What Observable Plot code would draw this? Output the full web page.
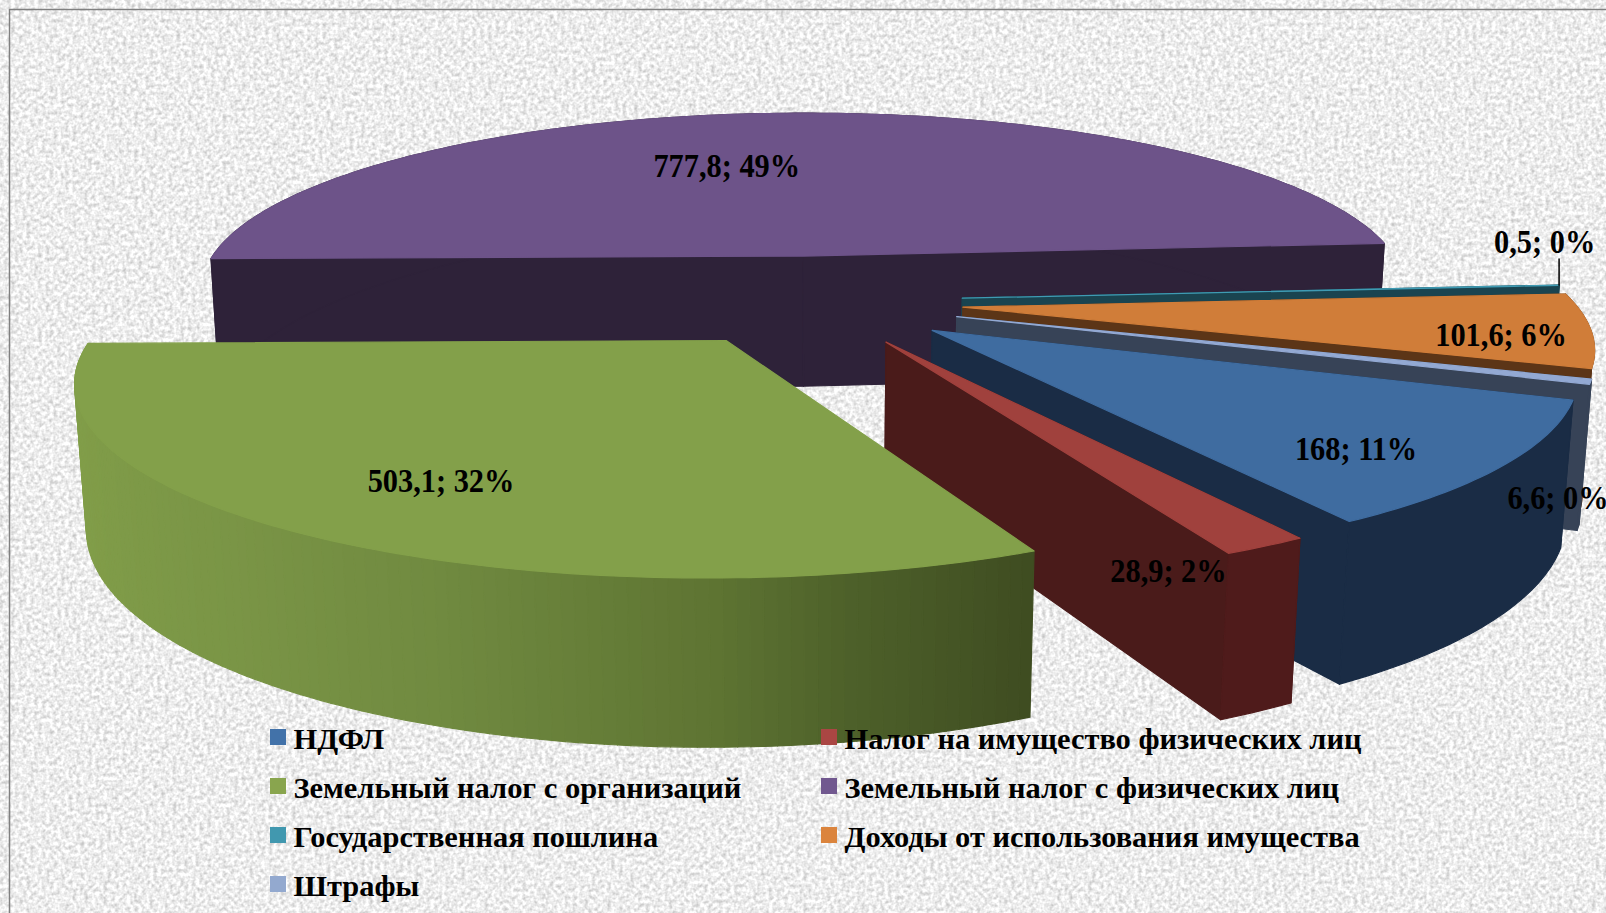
<!DOCTYPE html>
<html lang="ru"><head><meta charset="utf-8">
<script src="https://cdn.jsdelivr.net/npm/d3@7"></script>
<script src="https://cdn.jsdelivr.net/npm/@observablehq/plot@0.6"></script>
<style>
html,body{margin:0;padding:0;width:1606px;height:913px;overflow:hidden}
body{background-color:#ececec;background-image:url("data:image/svg+xml;utf8,<svg xmlns='http://www.w3.org/2000/svg' width='1606' height='913'><filter id='n' x='0' y='0' width='100%' height='100%' color-interpolation-filters='sRGB'><feTurbulence type='fractalNoise' baseFrequency='.26' numOctaves='2' seed='4'/><feColorMatrix values='.42 0 0 0 .72 .42 0 0 0 .72 .42 0 0 0 .72 0 0 0 0 1'/></filter><rect width='1606' height='913' filter='url(%23n)'/></svg>")}
svg{display:block;background:transparent!important}
</style></head><body><div id="chart"></div>
<script>
// data, in the chart's order (clockwise)
const categories=["НДФЛ","Налог на имущество физических лиц","Земельный налог с организаций","Земельный налог с физических лиц","Государственная пошлина","Доходы от использования имущества","Штрафы"];
const values=[168,28.9,503.1,777.8,0.5,101.6,6.6];
const topColors=["#3f6ca0","#a0413d","#83a04a","#6d5389","#3f9bb3","#d07d39","#93a9d3"];
const wallColors=["#1a2c45","#4a1b1a","#6a8239","#2e2239","#1a4450","#5c3517","#374357"];
const swatchColors=["#4272a9","#aa4643","#89a54e","#71588f","#4198af","#db843d","#93a9cf"];
// 3D view
const view={x0:810,y0:301,rx:611,ry:177,depth:138,persp:.185,drop:.015,start:20.3};
const explode=[.25,.25,.25,.27,.25,.25,.25];
const radiusU=[1,1,1,1.015,1,1,1],radiusV=[1,1,1,1.055,1,1,1];
const drawOrder=[3,4,5,6,0,1,2];
const labelOffset=[5.9,9.4,-2.55,-11.4,-12.4,4.5,28.3]; // degrees from slice middle
const labelRadius=[.82,1.04,.76,.605,1.07,.857,1.155];
const total=d3.sum(values);
const rad=a=>a*Math.PI/180;
function project(u,v,h){const w=1-view.persp*v+view.drop*h;return [view.x0+view.rx*u/w,view.y0+(view.ry*v+view.depth*h)/w];}
let cum=view.start;
const slices=values.map((val,i)=>{const t0=cum,t1=cum+val/total*360;cum=t1;const m=(t0+t1)/2;
 return {i,t0,t1,m,ax:explode[i]*Math.cos(rad(m)),ay:explode[i]*Math.sin(rad(m))};});
const rim=(s,t,h,ru=radiusU[s.i],rv=radiusV[s.i])=>project(s.ax+ru*Math.cos(rad(t)),s.ay+rv*Math.sin(rad(t)),h);
const polys=[];let pid=0;
function poly(pts,color){const id=pid++;pts.forEach(p=>polys.push({id,x:p[0],y:p[1],color}));}
// green wall shades from dark at the right to light at the left
const greenShade=d3.scaleLinear().domain([65,80,90,110,130,150,175]).range(["#3f4c21","#4e612a","#5f7533","#708a40","#7a9546","#7f9b48","#83a04a"]).clamp(true);
drawOrder.forEach(k=>{const s=slices[k],wall=wallColors[k];
 const apexT=project(s.ax,s.ay,0),apexB=project(s.ax,s.ay,1);
 if(k!==2){ // green's cut faces are turned away from the viewer
  poly([apexT,rim(s,s.t0,0),rim(s,s.t0,1),apexB],wall);
  poly([apexT,rim(s,s.t1,0),rim(s,s.t1,1),apexB],wall);
 }
 const n=Math.max(2,Math.ceil(s.t1-s.t0));
 const steps=d3.range(n).map(j=>[s.t0+(s.t1-s.t0)*j/n,s.t0+(s.t1-s.t0)*(j+1)/n]);
 if(k===2){
  steps.sort((p,q)=>Math.sin(rad(p[0]+.5))-Math.sin(rad(q[0]+.5)));
  steps.forEach(([a,b])=>poly([rim(s,a,0),rim(s,b,0),rim(s,b,1),rim(s,a,1)],greenShade((a+b)/2)));
 }else{
  const ts=d3.range(n+1).map(j=>s.t0+(s.t1-s.t0)*j/n);
  poly([...ts.map(t=>rim(s,t,0)),...ts.slice().reverse().map(t=>rim(s,t,1))],k===1?"#4f1b1b":wall);
 }
 const top=[apexT];for(let j=0;j<=n;j++)top.push(rim(s,s.t0+(s.t1-s.t0)*j/n,0));
 poly(top,topColors[k]);
});
const labels=slices.map(s=>{const a=s.m+labelOffset[s.i],r=labelRadius[s.i],[x,y]=rim(s,a,0,r,r);
 return {x,y,text:`${String(values[s.i]).replace(".",",")}; ${Math.round(values[s.i]/total*100)}%`};});
// leader of the smallest slice
const teal=slices[4];const lp=rim(teal,teal.m,0);
const leader=[{x:lp[0],y:lp[1]},{x:lp[0],y:lp[1]-view.depth*.19}];
// legend
const legendCols=[270,821],legendRows=[729,778,827,876],swatch=16;
const legend=categories.map((name,i)=>({name,color:swatchColors[i],x:legendCols[i%2],y:legendRows[Math.floor(i/2)]}));
const font="Liberation Serif";
const chart=Plot.plot({width:1606,height:913,margin:0,
 x:{domain:[0,1606],range:[0,1606],axis:null},y:{domain:[0,913],range:[0,913],axis:null},
 color:{type:"identity"},
 marks:[
  Plot.ruleX([9],{y1:9,y2:913,stroke:"#808080",strokeWidth:1.5}),
  Plot.ruleY([9],{x1:9,x2:1606,stroke:"#808080",strokeWidth:1.5}),
  Plot.line(polys,{x:"x",y:"y",z:"id",fill:"color",stroke:"color",strokeWidth:1.2,curve:"linear-closed"}),
  Plot.line(leader,{x:"x",y:"y",stroke:"#000",strokeWidth:1.5}),
  Plot.text(labels,{x:"x",y:"y",dy:-4.5,text:"text",fontFamily:font,fontWeight:"bold",fontSize:33,fill:"#000",textAnchor:"middle",className:"slice-label"}),
  Plot.rect(legend,{x1:"x",x2:d=>d.x+swatch,y1:"y",y2:d=>d.y+swatch,fill:"color"}),
  Plot.text(legend,{x:d=>d.x+23,y:d=>d.y+10,text:"name",fontFamily:font,fontWeight:"bold",fontSize:30,fill:"#000",textAnchor:"start",className:"legend-label"})
 ]});
document.getElementById("chart").append(chart);
// the reference's labels are narrow and tall; legend slightly wider
chart.querySelectorAll(".slice-label text").forEach(el=>{el.setAttribute("lengthAdjust","spacingAndGlyphs");el.setAttribute("textLength",el.getComputedTextLength()*.92);});
chart.querySelectorAll(".legend-label text").forEach(el=>{el.setAttribute("lengthAdjust","spacingAndGlyphs");el.setAttribute("textLength",el.getComputedTextLength()*1.015);});
</script></body></html>
